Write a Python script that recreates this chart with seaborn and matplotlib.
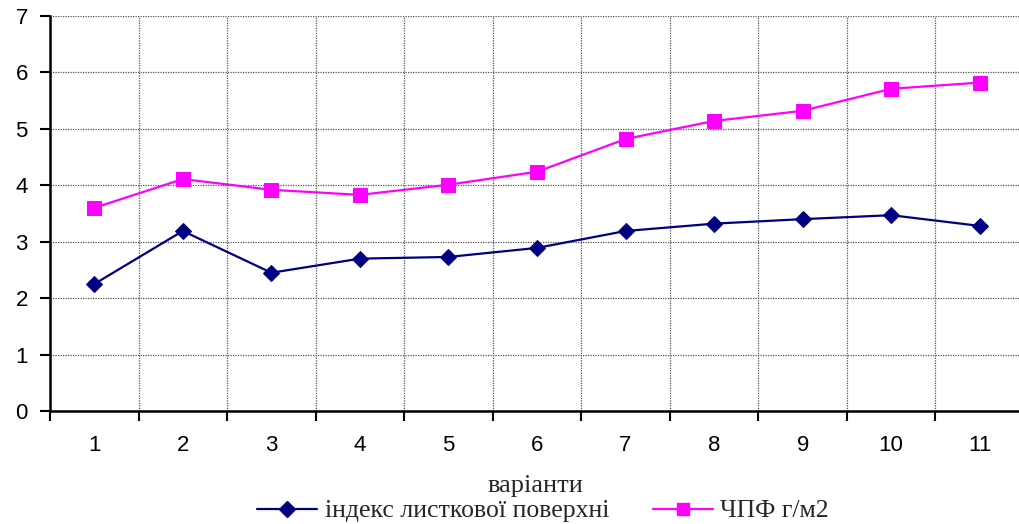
import numpy as np
import pandas as pd
import matplotlib
matplotlib.use("Agg")
import matplotlib.pyplot as plt
import seaborn as sns
from matplotlib.lines import Line2D
from matplotlib.ticker import MultipleLocator, FixedLocator

categories = ["1", "2", "3", "4", "5", "6", "7", "8", "9", "10", "11"]
leaf_index = [2.25, 3.19, 2.45, 2.70, 2.73, 2.89, 3.19, 3.32, 3.40, 3.47, 3.28]
chpf = [3.60, 4.11, 3.92, 3.83, 4.01, 4.24, 4.82, 5.14, 5.32, 5.71, 5.82]
series_names = ["індекс листкової поверхні", "ЧПФ г/м2"]
x_title = "варіанти"

sns.set_theme(style="white")
plt.rcParams['font.family'] = ['Liberation Sans', 'DejaVu Sans']

pos = np.arange(len(categories))
df = pd.DataFrame({
    "x": np.concatenate([pos, pos]),
    "y": leaf_index + chpf,
    "s": [series_names[0]] * len(pos) + [series_names[1]] * len(pos),
})

W, H = 1019, 524
fig = plt.figure(figsize=(W / 100, H / 100), dpi=100)
left, right, top, bottom = 50, 1024, 16, 411
ax = fig.add_axes([left / W, 1 - bottom / H, (right - left) / W, (bottom - top) / H])

colors = {series_names[0]: "#000080", series_names[1]: "#FF00FF"}
markers = {series_names[0]: "D", series_names[1]: "s"}
sizes = {series_names[0]: 8.5, series_names[1]: 9.5}

for name in series_names:
    sub = df[df["s"] == name]
    sns.lineplot(data=sub, x="x", y="y", ax=ax, color=colors[name], marker=markers[name],
                 markersize=sizes[name], markeredgecolor=colors[name], linewidth=1.6,
                 legend=False)

ax.set_xlim(-0.5, len(categories) - 0.5)
ax.set_ylim(0, 7)
ax.set_xlabel("")
ax.set_ylabel("")

ax.set_xticks(pos)
ax.set_xticklabels(categories)
ax.xaxis.set_minor_locator(FixedLocator(np.arange(-0.5, len(categories), 1.0)))
ax.yaxis.set_major_locator(MultipleLocator(1))

ax.tick_params(axis="x", which="major", length=0, pad=17, labelsize=16, colors="black")
ax.tick_params(axis="x", which="minor", length=7, width=1.5, direction="out", color="black", bottom=True)
ax.tick_params(axis="y", which="major", length=7, width=1.5, direction="out", color="black",
               left=True, pad=9, labelsize=16, labelcolor="black")

ax.grid(False)
ax.grid(axis="y", which="major", color="#555555", linestyle=(0, (1, 1)), linewidth=0.9)
ax.grid(axis="x", which="minor", color="#555555", linestyle=(0, (1, 1)), linewidth=0.9)
ax.set_axisbelow(True)

for s in ["top", "right"]:
    ax.spines[s].set_visible(False)
for s in ["left", "bottom"]:
    ax.spines[s].set_color("black")
    ax.spines[s].set_linewidth(1.8)

fig.text(535 / W, 1 - 486 / H, x_title, ha="center", va="center",
         fontsize=19, family=["Liberation Serif", "DejaVu Serif"])

handles = [Line2D([], [], color=colors[n], marker=markers[n], markersize=sizes[n] * 0.9,
                  linewidth=1.6) for n in series_names]
fig.legend(handles, series_names, loc="center", bbox_to_anchor=(543 / W, 1 - 511 / H),
           ncol=2, frameon=False, handlelength=2.33, columnspacing=1.7, handletextpad=0.3,
           borderpad=0.0, borderaxespad=0.0,
           prop={"family": ["Liberation Serif", "DejaVu Serif"], "size": 18.5})

fig.savefig("out.png", dpi=100)
